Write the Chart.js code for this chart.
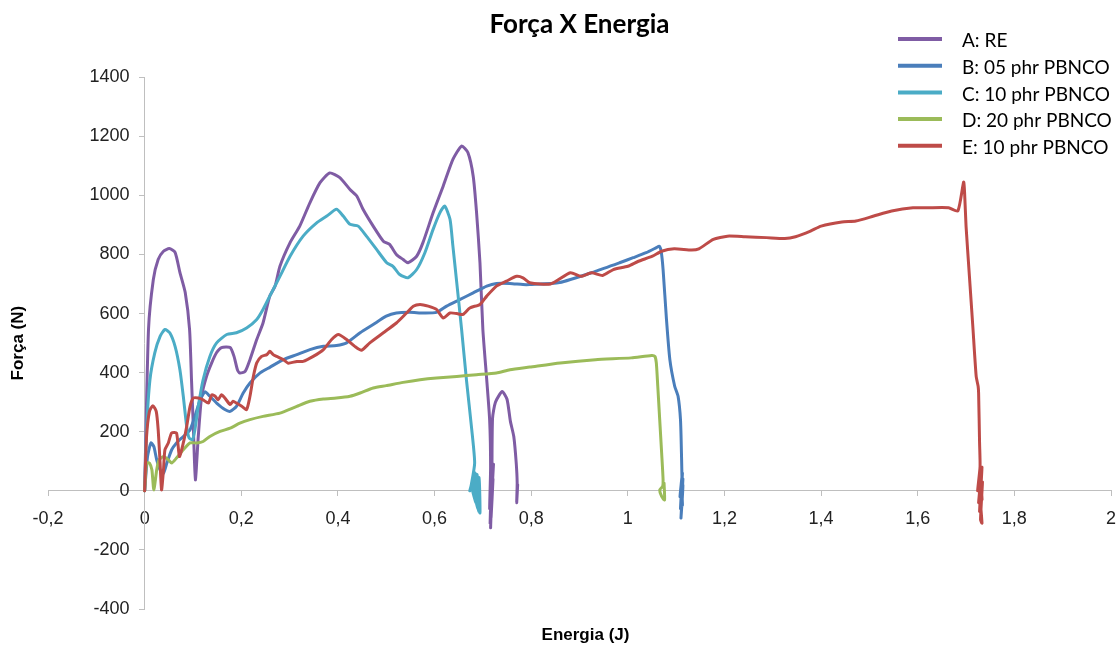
<!DOCTYPE html>
<html>
<head>
<meta charset="utf-8">
<script src="https://cdn.jsdelivr.net/npm/chart.js@4"></script>
<style>
  body { margin: 0; background: #fff; }
  #wrap { width: 1117px; height: 646px; }
</style>
</head>
<body>
<div id="wrap"><canvas id="myChart"></canvas></div>
<script>
// [energia (J), força (N)]
const serieA = [
  [0, 0], [0.008, 546], [0.018, 715], [0.028, 783], [0.039, 811], [0.051, 820], [0.063, 807],
  [0.073, 739], [0.084, 671], [0.093, 546], [0.097, 376], [0.101, 207], [0.105, 37], [0.111, 184],
  [0.118, 320], [0.128, 387], [0.139, 434], [0.149, 468], [0.159, 485], [0.177, 485], [0.185, 455],
  [0.192, 410], [0.197, 399], [0.208, 404], [0.218, 444], [0.232, 512], [0.245, 568], [0.259, 659],
  [0.270, 693], [0.280, 760], [0.301, 840], [0.321, 896], [0.342, 975], [0.363, 1043], [0.383, 1076],
  [0.404, 1060], [0.425, 1020], [0.439, 998], [0.452, 953], [0.473, 896], [0.494, 845], [0.507, 834],
  [0.521, 800], [0.535, 783], [0.545, 772], [0.563, 794], [0.576, 840], [0.597, 941], [0.618, 1032],
  [0.638, 1122], [0.656, 1167], [0.669, 1145], [0.680, 1065], [0.687, 941], [0.694, 772], [0.700, 546],
  [0.708, 376], [0.714, 241], [0.716, 80], [0.714, -60], [0.718, 70], [0.715, -110], [0.719, 60],
  [0.716, -125], [0.720, 80], [0.717, -90], [0.721, 40], [0.718, -30], [0.722, 90], [0.719, 10],
  [0.720, 245], [0.726, 300], [0.740, 336], [0.750, 310],
  [0.757, 235], [0.764, 184], [0.769, 95], [0.771, 27], [0.770, -40], [0.772, 20], [0.771, 0]
];
const serieB = [
  [0, 0], [0.006, 116], [0.013, 162], [0.019, 150], [0.025, 105], [0.032, 71], [0.039, 60],
  [0.046, 94], [0.056, 139], [0.066, 162], [0.080, 184], [0.094, 207], [0.104, 252], [0.115, 308],
  [0.125, 335], [0.135, 320], [0.149, 297], [0.166, 275], [0.177, 269], [0.190, 286], [0.204, 331],
  [0.218, 365], [0.239, 399], [0.259, 418], [0.287, 444], [0.315, 461], [0.342, 478], [0.370, 489],
  [0.397, 492], [0.418, 501], [0.446, 535], [0.473, 563], [0.500, 591], [0.521, 602], [0.549, 604],
  [0.577, 602], [0.604, 604], [0.625, 625], [0.652, 647], [0.680, 670], [0.708, 693], [0.728, 702],
  [0.756, 702], [0.783, 698], [0.797, 698], [0.859, 705], [0.933, 743], [0.983, 772], [1.011, 789],
  [1.038, 806], [1.059, 823], [1.065, 828], [1.069, 811], [1.073, 749], [1.080, 580], [1.087, 444],
  [1.097, 354], [1.104, 320], [1.109, 241], [1.111, 128], [1.112, 15], [1.108, -20], [1.113, 60],
  [1.109, -60], [1.114, 40], [1.110, -92], [1.114, 20], [1.109, 0], [1.113, -50], [1.112, 0]
];
const serieC = [
  [0, 0], [0.004, 207], [0.011, 376], [0.021, 467], [0.032, 523], [0.042, 546], [0.052, 535],
  [0.063, 489], [0.073, 410], [0.080, 320], [0.087, 218], [0.092, 179], [0.099, 173], [0.104, 207],
  [0.111, 286], [0.121, 376], [0.135, 455], [0.149, 501], [0.170, 529], [0.190, 535], [0.211, 551],
  [0.232, 580], [0.245, 614], [0.259, 659], [0.280, 726], [0.301, 794], [0.328, 862], [0.356, 907],
  [0.377, 930], [0.397, 953], [0.411, 930], [0.425, 902], [0.442, 896], [0.459, 862], [0.480, 817],
  [0.501, 772], [0.514, 760], [0.528, 732], [0.545, 721], [0.563, 749], [0.580, 806], [0.597, 885],
  [0.611, 941], [0.621, 964], [0.632, 919], [0.638, 828], [0.646, 704], [0.656, 546], [0.666, 376],
  [0.677, 207], [0.683, 94], [0.676, 20], [0.673, 0], [0.684, 60], [0.686, -40], [0.678, 10],
  [0.688, 55], [0.690, -60], [0.681, 5], [0.690, 40], [0.692, -70], [0.684, -5], [0.692, 45],
  [0.694, -75], [0.688, 20], [0.693, 0]
];
const serieD = [
  [0, 0], [0.004, 94], [0.010, 94], [0.015, 71], [0.019, 3], [0.025, 71], [0.030, 105],
  [0.039, 116], [0.049, 105], [0.056, 94], [0.066, 111], [0.080, 139], [0.094, 162], [0.108, 162],
  [0.121, 167], [0.135, 184], [0.156, 201], [0.177, 212], [0.197, 229], [0.218, 241], [0.245, 252],
  [0.280, 263], [0.315, 286], [0.342, 303], [0.370, 311], [0.397, 314], [0.425, 320], [0.446, 331],
  [0.473, 348], [0.500, 356], [0.535, 367], [0.570, 376], [0.604, 382], [0.646, 387], [0.687, 393],
  [0.728, 399], [0.756, 410], [0.797, 419], [0.860, 433], [0.933, 444], [1.007, 450], [1.049, 458],
  [1.056, 455], [1.059, 433], [1.062, 354], [1.066, 241], [1.070, 128], [1.073, 37], [1.072, 15],
  [1.066, 3], [1.070, -19], [1.076, -31], [1.075, 26]
];
const serieE = [
  [0, 0], [0.004, 184], [0.010, 269], [0.017, 288], [0.024, 269], [0.028, 207], [0.032, 94],
  [0.035, 3], [0.039, 71], [0.042, 139], [0.049, 162], [0.056, 196], [0.066, 196], [0.072, 116],
  [0.080, 162], [0.087, 218], [0.094, 286], [0.101, 314], [0.111, 314], [0.121, 308], [0.132, 297],
  [0.139, 325], [0.146, 320], [0.152, 308], [0.159, 325], [0.166, 314], [0.177, 292], [0.183, 303],
  [0.190, 297], [0.201, 286], [0.211, 275], [0.218, 320], [0.225, 387], [0.232, 433], [0.242, 455],
  [0.253, 461], [0.259, 472], [0.266, 461], [0.273, 455], [0.287, 444], [0.297, 432], [0.315, 438],
  [0.328, 438], [0.349, 455], [0.370, 478], [0.387, 512], [0.401, 529], [0.418, 512], [0.435, 489],
  [0.449, 476], [0.466, 501], [0.494, 535], [0.521, 568], [0.542, 602], [0.556, 625], [0.570, 631],
  [0.587, 625], [0.604, 614], [0.618, 585], [0.632, 602], [0.646, 600], [0.659, 597], [0.673, 619],
  [0.694, 631], [0.708, 659], [0.728, 693], [0.749, 710], [0.770, 726], [0.783, 721], [0.797, 704],
  [0.840, 700], [0.881, 738], [0.903, 726], [0.925, 738], [0.948, 729], [0.970, 749], [1.000, 760],
  [1.022, 777], [1.051, 794], [1.070, 811], [1.096, 819], [1.132, 815], [1.147, 819], [1.177, 851],
  [1.206, 862], [1.243, 860], [1.287, 857], [1.325, 854], [1.347, 860], [1.378, 879], [1.400, 896],
  [1.443, 910], [1.472, 913], [1.509, 930], [1.546, 947], [1.590, 958], [1.620, 958], [1.664, 958],
  [1.683, 947], [1.695, 1045], [1.697, 1009], [1.700, 896], [1.707, 726], [1.714, 557], [1.721, 387],
  [1.725, 354], [1.726, 331], [1.728, 162], [1.729, 82], [1.724, 0], [1.731, 60], [1.726, -40],
  [1.733, 80], [1.728, -70], [1.734, 30], [1.730, -98], [1.733, -109], [1.727, 20], [1.733, -30],
  [1.732, 0]
];

const seriesNames = ["A: RE", "B: 05 phr PBNCO", "C: 10 phr PBNCO", "D: 20 phr PBNCO", "E: 10 phr PBNCO"];
const seriesColors = ["#7F5CA4", "#4A7EBB", "#4BACC6", "#9BBB59", "#BE4B48"];
const allSeries = [serieA, serieB, serieC, serieD, serieE];

const decimalComma = v => String(Math.round(v * 10) / 10).replace(".", ",");

// axis titles + legend column (Excel keeps the legend over the plot, top right)
const decor = {
  id: "decor",
  afterDraw(chart) {
    const c = chart.ctx;
    const a = chart.chartArea;
    c.save();
    c.fillStyle = "#000";
    c.textBaseline = "middle";
    c.textAlign = "center";
    c.font = "bold 17px 'Liberation Sans'";
    c.fillText("Energia (J)", (a.left + a.right) / 2 + 6, a.bottom + 26);
    c.translate(18, (a.top + a.bottom) / 2);
    c.rotate(-Math.PI / 2);
    c.fillText("Força (N)", 0, 0);
    c.restore();

    c.save();
    c.font = "19px Lato";
    c.textAlign = "left";
    c.textBaseline = "middle";
    chart.data.datasets.forEach((ds, i) => {
      const y = 40 + i * 26.7;
      c.strokeStyle = ds.borderColor;
      c.lineWidth = 4;
      c.beginPath();
      c.moveTo(898, y - 1);
      c.lineTo(942, y - 1);
      c.stroke();
      c.fillStyle = "#000";
      c.fillText(ds.label, 962, y + 1);
    });
    c.restore();
  }
};

const datasets = [];
for (let i = 0; i < allSeries.length; i++) {
  datasets.push({
    label: seriesNames[i],
    data: allSeries[i].map(p => ({x: p[0], y: p[1]})),
    borderColor: seriesColors[i],
    backgroundColor: seriesColors[i],
    borderWidth: 3,
    showLine: true,
    pointRadius: 0,
    tension: 0.2,
    borderJoinStyle: "round",
    borderCapStyle: "round",
    order: allSeries.length - i // last series on top, like Excel
  });
}

const axisGrey = "#BFBFBF";
const tickFont = {family: "'Liberation Sans'", size: 18};

new Chart(document.getElementById("myChart"), {
  type: "scatter",
  data: {datasets: datasets},
  options: {
    responsive: true,
    maintainAspectRatio: false,
    animation: false,
    layout: {padding: {left: 48, right: 6, top: 0, bottom: 37}},
    plugins: {
      legend: {display: false},
      tooltip: {enabled: false},
      title: {
        display: true,
        text: "Força X Energia",
        fullSize: false,
        color: "#000",
        font: {family: "Lato", size: 26, weight: "bold"},
        padding: {top: 9, bottom: 37}
      }
    },
    scales: {
      x: {
        type: "linear",
        position: {y: 0},
        min: -0.2,
        max: 2,
        ticks: {
          stepSize: 0.2,
          autoSkip: false,
          maxRotation: 0,
          color: "#222",
          font: {family: "'Liberation Sans'", size: 18, lineHeight: 0.85},
          padding: 0,
          // empty first line drops the label below the axis without
          // ticks.padding, which would also eat into the right margin
          callback: v => ["", decimalComma(v)]
        },
        grid: {drawOnChartArea: false, drawTicks: true, tickLength: 5, color: axisGrey},
        border: {color: axisGrey, width: 1}
      },
      y: {
        type: "linear",
        position: {x: 0},
        min: -400,
        max: 1400,
        ticks: {
          stepSize: 200,
          autoSkip: false,
          color: "#222",
          font: tickFont,
          // labels on a positioned axis sit flush on the line, so pad with spaces
          callback: v => String(v) + "   "
        },
        grid: {drawOnChartArea: false, drawTicks: true, tickLength: 5, color: axisGrey},
        border: {color: axisGrey, width: 1}
      }
    }
  },
  plugins: [decor]
});
</script>
</body>
</html>
